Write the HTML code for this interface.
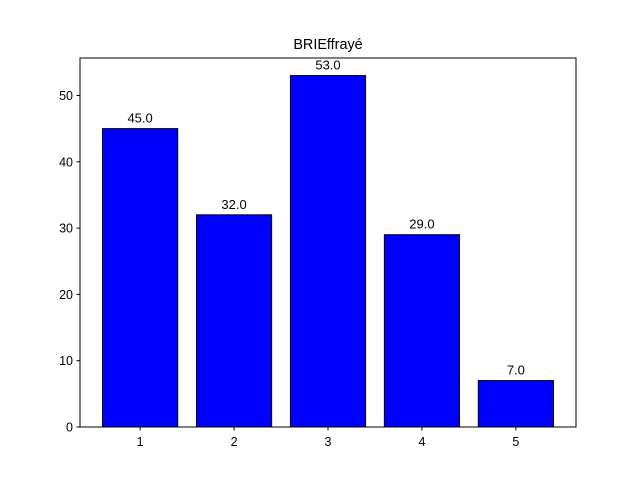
<!DOCTYPE html>
<html><head><meta charset="utf-8"><style>
body{margin:0;background:#fff;}
svg{display:block;font-family:"Liberation Sans","DejaVu Sans",sans-serif;}
</style></head><body>
<svg id="chart" width="640" height="480" viewBox="0 0 640 480">
<rect x="0" y="0" width="640" height="480" fill="#fff"/>
<text x="328" y="49" font-size="14.4" text-anchor="middle">BRIEffrayé</text>
<g id="bars"></g>
<g id="axes"></g>
</svg>
<script>
const categories = [1, 2, 3, 4, 5];
const values = [45, 32, 53, 29, 7];
const valueLabels = ["45.0", "32.0", "53.0", "29.0", "7.0"];
const yTicks = [0, 10, 20, 30, 40, 50];
const xTickLabels = ["1", "2", "3", "4", "5"];

const L = 80, R = 576, T = 58, B = 427;
const xMin = 0.36, xMax = 5.64, yMax = 55.65;
const sx = v => L + (v - xMin) / (xMax - xMin) * (R - L);
const sy = v => B - v / yMax * (B - T);
const NS = "http://www.w3.org/2000/svg";
const bars = document.getElementById('bars');
const axes = document.getElementById('axes');
function mk(tag, attrs, parent) {
  const e = document.createElementNS(NS, tag);
  for (const k in attrs) e.setAttribute(k, attrs[k]);
  parent.appendChild(e);
  return e;
}
categories.forEach((c, i) => {
  const x0 = sx(c - 0.4), x1 = sx(c + 0.4), y = sy(values[i]);
  const r = mk('rect', {x: x0, y: y, width: x1 - x0, height: B - y, fill: '#0000ff', stroke: '#000', 'stroke-width': 1}, bars);
  
  
  const t = mk('text', {x: sx(c), y: y - 6, 'font-size': 13, 'text-anchor': 'middle'}, bars);
  t.textContent = valueLabels[i];
  
  
});
const frame = mk('rect', {x: L, y: T, width: R - L, height: B - T, fill: 'none', stroke: '#000', 'stroke-width': 1}, axes);


yTicks.forEach(v => {
  const y = sy(v);
  mk('line', {x1: L - 3.5, x2: L, y1: y, y2: y, stroke: '#000'}, axes);
  const t = mk('text', {x: L - 7, y: y + 4.5, 'font-size': 12.5, 'text-anchor': 'end'}, axes);
  t.textContent = v;
  
  
});
categories.forEach((c, i) => {
  const x = sx(c);
  mk('line', {x1: x, x2: x, y1: B, y2: B + 3.5, stroke: '#000'}, axes);
  const t = mk('text', {x: x, y: B + 19, 'font-size': 12.5, 'text-anchor': 'middle'}, axes);
  t.textContent = xTickLabels[i];
  
  
});
</script>
</body></html>
